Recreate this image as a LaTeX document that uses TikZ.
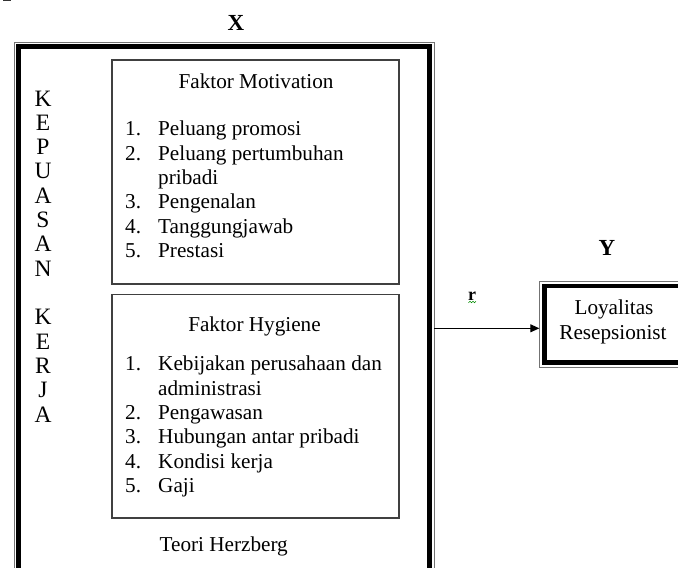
\documentclass[tikz,border=0pt]{standalone}
\usepackage{fontspec}
\setmainfont{Liberation Serif}
\usetikzlibrary{arrows.meta}
\tikzset{
  txt/.style={inner sep=0pt, font=\fontsize{21.2}{24.4}\selectfont},
  num/.style={txt, anchor=base west},
  itm/.style={txt, anchor=base west},
  ctr/.style={txt, anchor=base},
  vlet/.style={txt, anchor=base, font=\fontsize{23.5}{24.4}\selectfont},
  bld/.style={txt, anchor=base, font=\fontsize{23}{24.4}\selectfont\bfseries},
  thinline/.style={draw=black!55, line width=1pt},
  thickline/.style={draw=black, line width=4.8pt},
  boxline/.style={draw=black!75, line width=1.3pt},
  conn/.style={draw=black, line width=1pt, -{Triangle[length=9pt,width=8pt]}}
}
\begin{document}
\begin{tikzpicture}[x=1pt,y=-1pt]
\useasboundingbox (0,0) rectangle (678,568);
\clip (0,0) rectangle (678,568);
\fill[white] (0,0) rectangle (678,568);
% small mark top-left
\draw[black!80, line width=1.2pt] (3,0.6) -- (11,0.6);
% outer frame X
\draw[thinline] (14.3,42) rectangle (434,640);
\draw[thickline] (18.4,46.2) rectangle (429.8,636);
% Y frame
\draw[thinline] (539.3,281.7) rectangle (720,367.7);
\draw[thickline] (544.5,286) rectangle (716,362.8);
% inner boxes
\draw[boxline] (112,60) rectangle (399,284);
\draw[boxline] (112,294.3) rectangle (399,518);
% labels X, Y
\node[bld] (X) at (236,30) {X};
\node[bld] (Y) at (607,255) {Y};
% KEPUASAN KERJA
\foreach \l [count=\i from 0] in {K,E,P,U,A,S,A,N,{},K,E,R,J,A}{
  \node[vlet] (v\i) at (43,106+\i*24.33) {\l};
}
% Motivation box
\node[ctr] (mt) at (256,88.5) {Faktor Motivation};
\node[num] (m1n) at (125,135.7) {1.};
\node[itm] (m1) at (158,135.7) {Peluang promosi};
\node[num] (m2n) at (125,160.1) {2.};
\node[itm] (m2) at (158,160.1) {Peluang pertumbuhan};
\node[itm] (m2b) at (158,184.5) {pribadi};
\node[num] (m3n) at (125,208.9) {3.};
\node[itm] (m3) at (158,208.9) {Pengenalan};
\node[num] (m4n) at (125,233.3) {4.};
\node[itm] (m4) at (158,233.3) {Tanggungjawab};
\node[num] (m5n) at (125,257.7) {5.};
\node[itm] (m5) at (158,257.7) {Prestasi};
% Hygiene box
\node[ctr] (ht) at (254.5,331) {Faktor Hygiene};
\node[num] (h1n) at (125,370.7) {1.};
\node[itm] (h1) at (158,370.7) {Kebijakan perusahaan dan};
\node[itm] (h1b) at (158,395.1) {administrasi};
\node[num] (h2n) at (125,419.5) {2.};
\node[itm] (h2) at (158,419.5) {Pengawasan};
\node[num] (h3n) at (125,443.9) {3.};
\node[itm] (h3) at (158,443.9) {Hubungan antar pribadi};
\node[num] (h4n) at (125,468.3) {4.};
\node[itm] (h4) at (158,468.3) {Kondisi kerja};
\node[num] (h5n) at (125,492.7) {5.};
\node[itm] (h5) at (158,492.7) {Gaji};
% Teori Herzberg
\node[ctr] (th) at (223.7,551.7) {Teori Herzberg};
% Y box text
\node[ctr] (ly1) at (614,314) {Loyalitas};
\node[ctr] (ly2) at (613,339) {Resepsionist};
% r label
\node[txt, anchor=base, font=\fontsize{18}{20}\selectfont\bfseries] (r) at (472,300) {r};
\draw[green!55!black, line width=0.6pt] (468.5,302.8) -- (470,301.3) -- (471.5,302.8) -- (473,301.3) -- (474.5,302.8) -- (476,301.3);
% connector
\coordinate (aS) at (434,328.3);
\coordinate (aE) at (539.3,328.3);
\draw[conn] (aS) -- (aE);
\end{tikzpicture}
\end{document}
